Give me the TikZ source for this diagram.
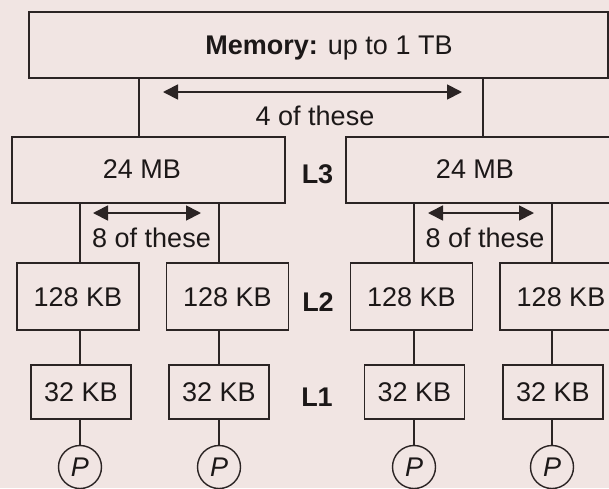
\documentclass[tikz,border=0pt]{standalone}
\usepackage{fontspec}
\setmainfont{Liberation Sans}
\usetikzlibrary{arrows.meta}
\definecolor{paper}{HTML}{F1E5E3}
\definecolor{ink}{HTML}{2B2424}
\definecolor{letter}{HTML}{1C1818}
\begin{document}
\begin{tikzpicture}[x=1pt,y=-1pt,
  every node/.style={font=\fontsize{27}{30}\selectfont, text=letter, inner sep=0pt, outer sep=0pt},
  cachebox/.style={draw=ink, line width=1.8pt, text height=19pt, text depth=0pt},
  wire/.style={draw=ink, line width=1.8pt},
  span/.style={draw=ink, line width=1.8pt,
    {Triangle[length=15pt,width=15pt]}-{Triangle[length=15pt,width=15pt]}},
  txt/.style={anchor=base},
  tag/.style={anchor=base, font=\fontsize{27}{30}\selectfont\bfseries},
  proc/.style={draw=ink, circle, line width=1.4pt, minimum size=43pt,
    text height=19pt, text depth=0pt, font=\fontsize{27}{30}\selectfont\itshape}
]
% page and background
\fill[paper] (0,0) rectangle (609,488);
\useasboundingbox (0,0) rectangle (609,488);

% columns of the vertical wires
\coordinate (tapL) at (139,0);
\coordinate (tapR) at (483,0);
\coordinate (col1) at (80,0);
\coordinate (col2) at (219,0);
\coordinate (col3) at (414,0);
\coordinate (col4) at (552,0);

% main memory
\node[cachebox, minimum width=579pt, minimum height=66pt] (mem) at (318.5,45) {};
\node[txt] (memtxt) at (329,54) {\textbf{Memory:} up to 1 TB};

% L3 caches
\node[cachebox, minimum width=273pt, minimum height=66pt] (l3a) at (148.5,170) {};
\node[cachebox, minimum width=273pt, minimum height=66pt] (l3b) at (482.5,170) {};
\node[txt] (l3atxt) at (142,178) {24 MB};
\node[txt] (l3btxt) at (475,178) {24 MB};

% L2 caches
\node[cachebox, minimum width=122pt, minimum height=67pt] (l2a) at (78,296.5) {128 KB};
\node[cachebox, minimum width=122pt, minimum height=67pt] (l2b) at (227.5,296.5) {128 KB};
\node[cachebox, minimum width=122pt, minimum height=67pt] (l2c) at (411.5,296.5) {128 KB};
\node[cachebox, minimum width=122pt, minimum height=67pt] (l2d) at (561,296.5) {128 KB};

% L1 caches
\node[cachebox, minimum width=100pt, minimum height=54.5pt] (l1a) at (81,392) {32 KB};
\node[cachebox, minimum width=100pt, minimum height=54.5pt] (l1b) at (219,392) {32 KB};
\node[cachebox, minimum width=100pt, minimum height=54.5pt] (l1c) at (414.5,392) {32 KB};
\node[cachebox, minimum width=100pt, minimum height=54.5pt] (l1d) at (553,392) {32 KB};

% processors
\node[proc] (p1) at (80,467) {P};
\node[proc] (p2) at (219,467) {P};
\node[proc] (p3) at (414,467) {P};
\node[proc] (p4) at (552,467) {P};

% level tags
\node[tag] (tag3) at (317.5,183) {L3};
\node[tag] (tag2) at (318,311) {L2};
\node[tag] (tag1) at (317,406) {L1};

% memory to L3
\draw[wire] (mem.south -| tapL) -- (l3a.north -| tapL);
\draw[wire] (mem.south -| tapR) -- (l3b.north -| tapR);

% L3 to L2
\draw[wire] (l3a.south -| col1) -- (l2a.north -| col1);
\draw[wire] (l3a.south -| col2) -- (l2b.north -| col2);
\draw[wire] (l3b.south -| col3) -- (l2c.north -| col3);
\draw[wire] (l3b.south -| col4) -- (l2d.north -| col4);

% L2 to L1
\draw[wire] (l2a.south -| col1) -- (l1a.north -| col1);
\draw[wire] (l2b.south -| col2) -- (l1b.north -| col2);
\draw[wire] (l2c.south -| col3) -- (l1c.north -| col3);
\draw[wire] (l2d.south -| col4) -- (l1d.north -| col4);

% L1 to processors
\draw[wire] (l1a.south -| col1) -- (p1.north);
\draw[wire] (l1b.south -| col2) -- (p2.north);
\draw[wire] (l1c.south -| col3) -- (p3.north);
\draw[wire] (l1d.south -| col4) -- (p4.north);

% replication spans
\coordinate (s4l) at (163,92);
\coordinate (s4r) at (462,92);
\draw[span] (s4l) -- (s4r);
\node[txt] (n4) at (315,125) {4 of these};

\coordinate (s8al) at (93,213);
\coordinate (s8ar) at (201,213);
\draw[span] (s8al) -- (s8ar);
\node[txt] (n8a) at (151.5,247) {8 of these};

\coordinate (s8bl) at (428,213);
\coordinate (s8br) at (534,213);
\draw[span] (s8bl) -- (s8br);
\node[txt] (n8b) at (485,247) {8 of these};
\end{tikzpicture}
\end{document}
